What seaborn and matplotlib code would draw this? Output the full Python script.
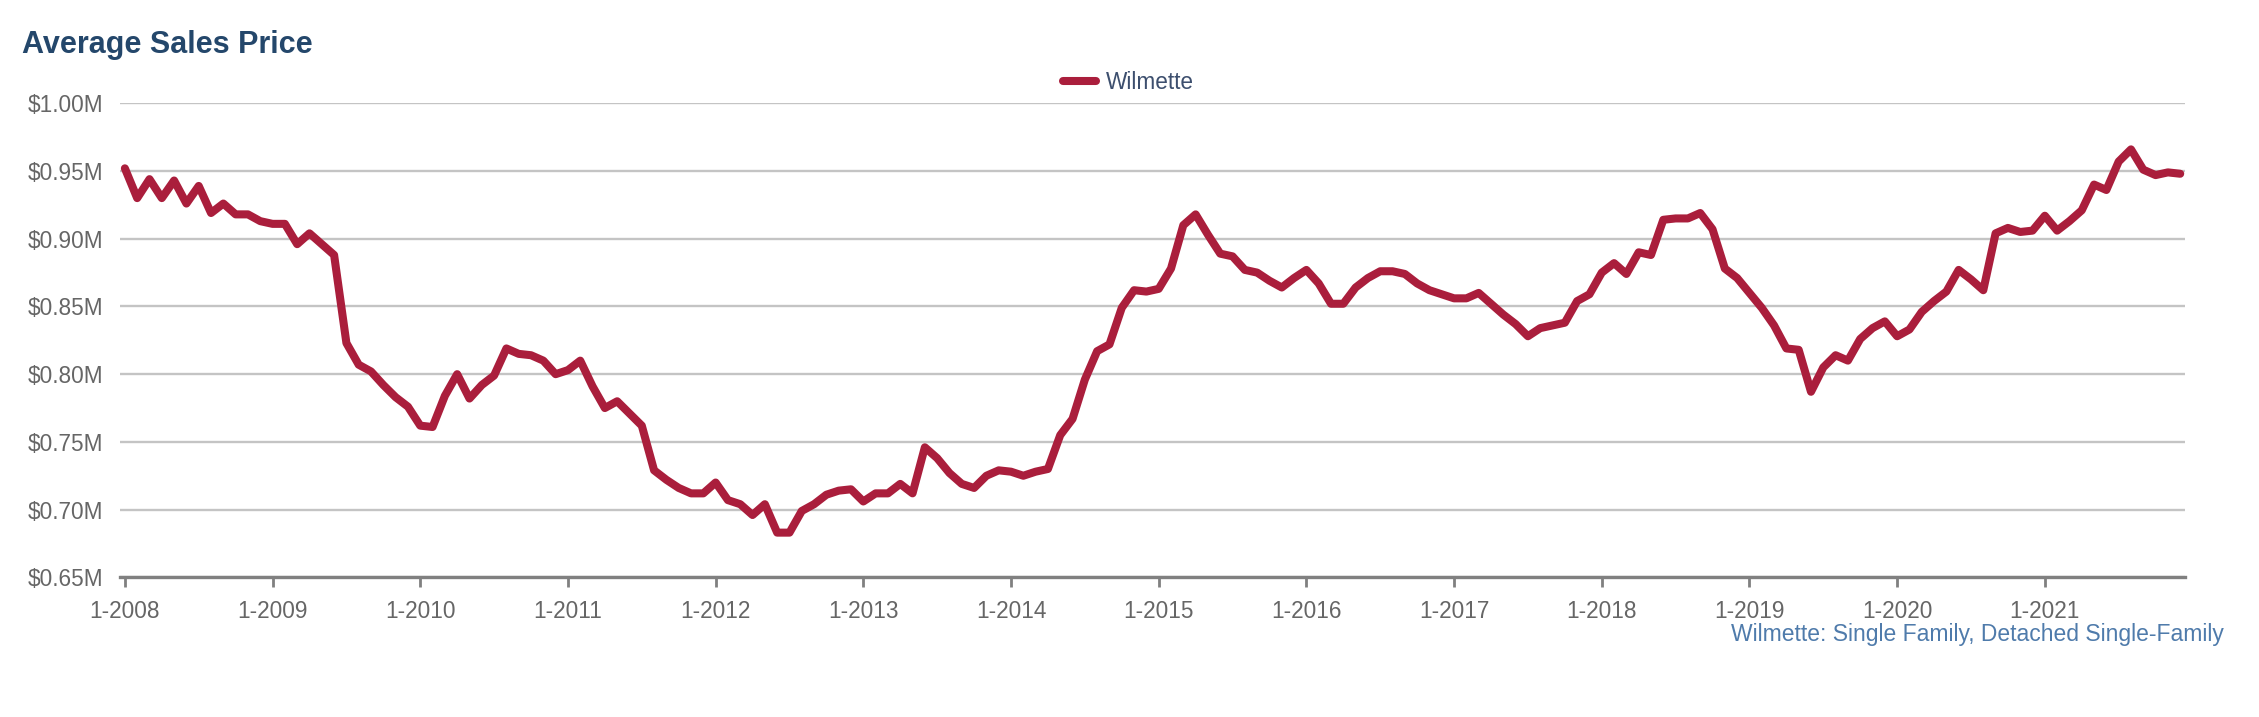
import matplotlib
matplotlib.use("Agg")
import matplotlib.pyplot as plt
import matplotlib.ticker as plticker
import seaborn as sns
import numpy as np

# monthly average sales price in $M, 1-2008 .. 12-2021
prices = [
    0.952, 0.930, 0.944, 0.930, 0.943, 0.926, 0.939, 0.919, 0.926, 0.918, 0.918, 0.913,
    0.911, 0.911, 0.896, 0.904, 0.896, 0.888, 0.823, 0.807, 0.802, 0.792, 0.783, 0.776,
    0.762, 0.761, 0.784, 0.800, 0.782, 0.792, 0.799, 0.819, 0.815, 0.814, 0.810, 0.800,
    0.803, 0.810, 0.791, 0.775, 0.780, 0.771, 0.762, 0.729, 0.722, 0.716, 0.712, 0.712,
    0.720, 0.707, 0.704, 0.696, 0.704, 0.683, 0.683, 0.699, 0.704, 0.711, 0.714, 0.715,
    0.706, 0.712, 0.712, 0.719, 0.712, 0.746, 0.738, 0.727, 0.719, 0.716, 0.725, 0.729,
    0.728, 0.725, 0.728, 0.730, 0.755, 0.767, 0.796, 0.817, 0.822, 0.849, 0.862, 0.861,
    0.863, 0.878, 0.910, 0.918, 0.903, 0.889, 0.887, 0.877, 0.875, 0.869, 0.864, 0.871,
    0.877, 0.867, 0.852, 0.852, 0.864, 0.871, 0.876, 0.876, 0.874, 0.867, 0.862, 0.859,
    0.856, 0.856, 0.860, 0.852, 0.844, 0.837, 0.828, 0.834, 0.836, 0.838, 0.854, 0.859,
    0.875, 0.882, 0.874, 0.890, 0.888, 0.914, 0.915, 0.915, 0.919, 0.907, 0.878, 0.871,
    0.860, 0.849, 0.836, 0.819, 0.818, 0.787, 0.805, 0.814, 0.810, 0.826, 0.834, 0.839,
    0.828, 0.833, 0.846, 0.854, 0.861, 0.877, 0.870, 0.862, 0.904, 0.908, 0.905, 0.906,
    0.917, 0.906, 0.913, 0.921, 0.940, 0.936, 0.957, 0.966, 0.951, 0.947, 0.949, 0.948,
]
months = list(range(len(prices)))
years = list(range(2008, 2022))
year_labels = [f"1-{y}" for y in years]
y_ticks = [0.65, 0.70, 0.75, 0.80, 0.85, 0.90, 0.95, 1.00]

sns.set_theme(style="white")
plt.rcParams["font.family"] = ["Liberation Sans", "DejaVu Sans"]

fig = plt.figure(figsize=(22.59, 7.17), dpi=100)
ax = fig.add_axes([0.0531, 0.1948, 0.9142, 0.6611])

sns.lineplot(x=months, y=prices, ax=ax, color="#aa1e3c", linewidth=5.8,
             label="Wilmette", solid_joinstyle="round", solid_capstyle="round")

ax.set_xlim(-0.4, len(prices) - 1 + 0.4)
ax.set_ylim(0.65, 1.00)
ax.set_xticks([12 * i for i in range(len(years))])
ax.set_xticklabels(year_labels)
ax.set_yticks(y_ticks)
ax.yaxis.set_major_formatter(plticker.FuncFormatter(lambda v, p: f"${v:.2f}M"))

ax.grid(axis="y", color="#c4c4c4", linewidth=1.7)
ax.grid(axis="x", visible=False)
for s in ["top", "right", "left"]:
    ax.spines[s].set_visible(False)
ax.spines["bottom"].set_color("#808080")
ax.spines["bottom"].set_linewidth(2.4)
ax.tick_params(axis="x", direction="out", length=7, width=2, color="#808080",
               labelsize=16.3, labelcolor="#666666", pad=9, bottom=True)
ax.tick_params(axis="y", length=0, labelsize=16.3, labelcolor="#666666", pad=12)
ax.set_xlabel("")
ax.set_ylabel("")

leg = ax.legend(loc="center", bbox_to_anchor=(0.4995, 0.8856),
                bbox_transform=fig.transFigure, frameon=False, fontsize=16.3,
                handlelength=1.45, handletextpad=0.45, borderpad=0)
for t in leg.get_texts():
    t.set_color("#3d4f6e")

fig.text(0.0096, 1 - 45 / 717, "Average Sales Price", fontsize=22, weight="bold",
         color="#24476b", va="center", ha="left")
fig.text(0.9845, 1 - 635 / 717, "Wilmette: Single Family, Detached Single-Family",
         fontsize=16.5, color="#4f7bab", va="center", ha="right")

fig.savefig("out.png", dpi=100)
